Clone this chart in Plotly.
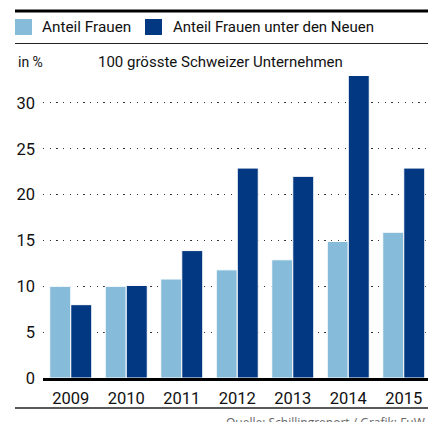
import plotly.graph_objects as go

years = ["2009", "2010", "2011", "2012", "2013", "2014", "2015"]
anteil_frauen = [10.0, 10.0, 10.8, 11.8, 12.9, 14.9, 15.9]
anteil_neue = [8.0, 10.1, 13.9, 22.9, 22.0, 33.0, 22.9]
series_names = ["Anteil Frauen", "Anteil Frauen unter den Neuen"]
y_ticks = [0, 5, 10, 15, 20, 25, 30]

LIGHT = "#86BCDA"
DARK = "#023882"
FONT = "Roboto, Liberation Sans, sans-serif"
TXT = "#111"

W, H = 428, 422
# plot area in window pixels
PL, PT, PB, PR = 43, 71, 378, 428
PW = PR - PL
PH = PB - PT


def px(x):
    return (x - PL) / PW


def py(y):
    return (PB - y) / PH


fig = go.Figure()
fig.add_trace(go.Bar(x=years, y=anteil_frauen, name=series_names[0],
                     marker=dict(color=LIGHT, line=dict(color="white", width=1))))
fig.add_trace(go.Bar(x=years, y=anteil_neue, name=series_names[1],
                     marker=dict(color=DARK, line=dict(color="white", width=1))))

shapes = [
    dict(type="line", x0=px(15), x1=px(428), y0=py(11), y1=py(11),
         line=dict(color="black", width=3)),
    dict(type="line", x0=px(15), x1=px(428), y0=py(43.5), y1=py(43.5),
         line=dict(color="#222", width=1)),
    dict(type="line", x0=px(15), x1=px(428), y0=py(408), y1=py(408),
         line=dict(color="#222", width=1.5)),
    dict(type="rect", x0=px(15), x1=px(32), y0=py(35), y1=py(19),
         fillcolor=LIGHT, line=dict(width=0)),
    dict(type="rect", x0=px(145), x1=px(162), y0=py(35), y1=py(19),
         fillcolor=DARK, line=dict(width=0)),
]
for s in shapes:
    s.update(xref="paper", yref="paper")

main_font = dict(family=FONT, size=15, color=TXT)
annotations = [
    dict(text=series_names[0], x=px(40), y=py(27.5), xanchor="left", yanchor="middle",
         font=dict(family=FONT, size=15.3, color=TXT)),
    dict(text=series_names[1], x=px(171), y=py(27.5), xanchor="left", yanchor="middle",
         font=main_font),
    dict(text="in %", x=px(16), y=py(62), xanchor="left", yanchor="middle",
         font=dict(family=FONT, size=14, color=TXT)),
    dict(text="100 grösste Schweizer Unternehmen", x=px(220), y=py(62), xanchor="center",
         yanchor="middle", font=main_font),
    dict(text="Quelle: Schillingreport / Grafik: FuW, sch", x=px(224), y=py(412),
         xanchor="left", yanchor="top",
         font=dict(family="Open Sans, DejaVu Sans, sans-serif", size=12, color="#666")),
]
for a in annotations:
    a.update(xref="paper", yref="paper", showarrow=False)

fig.update_layout(
    width=W, height=H,
    margin=dict(l=PL, r=W - PR, t=PT, b=H - PB, pad=0),
    paper_bgcolor="white", plot_bgcolor="white",
    showlegend=False,
    barmode="group", bargap=0.243, bargroupgap=0,
    font=dict(family=FONT, size=16, color=TXT),
    shapes=shapes, annotations=annotations,
    xaxis=dict(range=[-0.5, -0.5 + PW / 55.5], showgrid=False, zeroline=False,
               showline=True, linecolor="black", linewidth=3, ticks="",
               tickfont=dict(size=16.5), ticklabelstandoff=3),
    yaxis=dict(range=[0, PH / 9.167], tickvals=y_ticks, showgrid=True,
               gridcolor="#333", gridwidth=1.3, griddash="1.3px,5.4px",
               zeroline=False, ticks="", ticklabelstandoff=7,
               tickfont=dict(size=16.5)),
)

fig.write_html(
    "out.html",
    config={"displayModeBar": False},
    post_script="document.body.style.margin='0';"
                "document.documentElement.style.overflow='hidden';"
                "document.body.style.overflow='hidden';",
)
